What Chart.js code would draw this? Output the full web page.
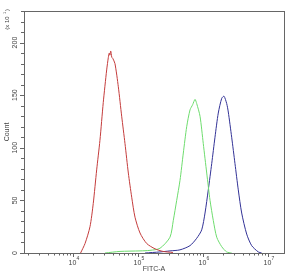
<!DOCTYPE html>
<html>
<head>
<meta charset="utf-8">
<script src="https://cdn.jsdelivr.net/npm/chart.js@4.4.0/dist/chart.umd.min.js"></script>
<style>
  html, body { margin: 0; padding: 0; background: #fff; }
  #wrap { width: 289px; height: 275px; }
</style>
</head>
<body>
<div id="wrap"><canvas id="myChart" width="289" height="275"></canvas></div>
<script>
'use strict';
// FITC-A values (x) and counts in units of 10 (y)
let redX = [12900, 15100, 18000, 20200, 22800, 25600, 28800, 32500, 34500, 35600, 36500, 37500, 39000, 40300, 43600, 49100, 55300, 62200, 70000, 78900, 88700, 105900, 134300, 179900, 238800, 340400];
let redY = [0, 9, 25, 47, 79, 107, 143, 174, 186, 190, 188, 192, 186, 185, 180, 158, 130, 104, 76, 53, 34, 19, 9, 4, 1.5, 0.5];

let greenX = [30600, 52100, 105900, 150700, 214900, 306000, 344300, 388200, 436500, 490900, 553300, 622300, 684000, 743000, 788900, 887200, 995400, 1125000, 1265000, 1419000, 1603000, 1914000, 2282000, 2723000];
let greenY = [0, 1.5, 2, 2.5, 4.5, 15, 31, 50, 69, 95, 120, 136, 141, 146, 142, 130, 104, 76, 50, 31, 15, 6, 1, 0];

let blueX = [126500, 214900, 306000, 436500, 622300, 788900, 941900, 1059000, 1189000, 1343000, 1507000, 1694000, 1914000, 2075000, 2282000, 2415000, 2723000, 3061000, 3441000, 3882000, 4632000, 5531000, 6993000, 7883000];
let blueY = [0, 1, 2, 3, 7, 14, 22, 38, 60, 85, 110, 133, 147, 149, 142, 134, 110, 85, 60, 38, 18, 7, 1, 0];

let countTicks = [0, 50, 100, 150, 200];
let fitcTicks = [10000, 100000, 1000000, 10000000];
let fitcExponents = ['4', '5', '6', '7'];

function toPoints(xs, ys){
    let pts = [];
    for (let i = 0; i < xs.length; i++){
        pts.push({x: xs[i], y: ys[i]});
    }
    return pts;
}

let axisColor = '#666666';
let textColor = '#444444';
let fontName = '"Liberation Sans", Arial, sans-serif';

let framePlugin = {
    id: 'frame',
    afterDraw(chart){
        let ctx = chart.ctx;
        let area = chart.chartArea;
        let xs = chart.scales.x;
        let ys = chart.scales.y;
        ctx.save();
        ctx.strokeStyle = axisColor;
        ctx.lineWidth = 1;
        ctx.strokeRect(Math.round(area.left) + 0.5, Math.round(area.top) + 0.5,
            Math.round(area.right - area.left), Math.round(area.bottom - area.top));

        // y ticks
        ctx.beginPath();
        for (let i = 0; i < ys.ticks.length; i++){
            let py = Math.round(ys.getPixelForValue(ys.ticks[i].value)) + 0.5;
            let len = ys.ticks[i].value % 50 === 0 ? 4 : 3;
            ctx.moveTo(area.left - len, py);
            ctx.lineTo(area.left, py);
        }
        // x ticks
        for (let i = 0; i < xs.ticks.length; i++){
            let v = xs.ticks[i].value;
            let px = Math.round(xs.getPixelForValue(v)) + 0.5;
            let major = fitcTicks.indexOf(v) >= 0;
            ctx.moveTo(px, area.bottom);
            ctx.lineTo(px, area.bottom + (major ? 4 : 2.5));
        }
        ctx.stroke();

        ctx.fillStyle = textColor;
        ctx.font = '7px ' + fontName;
        ctx.textAlign = 'center';
        ctx.textBaseline = 'middle';
        for (let i = 0; i < countTicks.length; i++){
            let py = ys.getPixelForValue(countTicks[i]);
            ctx.save();
            ctx.translate(15, py);
            ctx.rotate(-Math.PI / 2);
            ctx.fillText(String(countTicks[i]), 0, 0);
            ctx.restore();
        }
        for (let i = 0; i < fitcTicks.length; i++){
            let px = xs.getPixelForValue(fitcTicks[i]);
            ctx.font = '7px ' + fontName;
            ctx.textAlign = 'center';
            ctx.fillText('10', px - 1, 263);
            ctx.font = '5px ' + fontName;
            ctx.textAlign = 'left';
            ctx.fillText(fitcExponents[i], px + 3, 259);
        }

        ctx.font = '7px ' + fontName;
        ctx.textAlign = 'center';
        ctx.fillText('FITC-A', (area.left + area.right) / 2, 269);

        ctx.save();
        ctx.translate(7, (area.top + area.bottom) / 2);
        ctx.rotate(-Math.PI / 2);
        ctx.fillText('Count', 0, 0);
        ctx.restore();

        ctx.save();
        ctx.translate(7, 21);
        ctx.rotate(-Math.PI / 2);
        ctx.font = '6px ' + fontName;
        ctx.fillText('(x 10', -2, 0);
        ctx.font = '4px ' + fontName;
        ctx.fillText('1', 8, -2);
        ctx.font = '6px ' + fontName;
        ctx.fillText(')', 11, 0);
        ctx.restore();
        ctx.restore();
    }
};

function chartRender(){
    let ctx = document.getElementById('myChart').getContext('2d');
    let myChart = new Chart(ctx, {
        type: 'line',
        data: {
            datasets: [{
                data: toPoints(redX, redY),
                borderColor: 'rgb(196, 60, 60)'
            }, {
                data: toPoints(greenX, greenY),
                borderColor: 'rgb(110, 220, 110)'
            }, {
                data: toPoints(blueX, blueY),
                borderColor: 'rgb(50, 50, 150)'
            }]
        },
        options: {
            responsive: false,
            animation: false,
            layout: { padding: { top: 11, right: 5, left: 0, bottom: 0 } },
            elements: {
                point: { radius: 0 },
                line: { borderWidth: 1, tension: 0.25, fill: false }
            },
            plugins: {
                legend: { display: false },
                tooltip: { enabled: false }
            },
            scales: {
                x: {
                    type: 'logarithmic',
                    min: Math.pow(10, 3.24),
                    max: Math.pow(10, 7.24),
                    grid: { display: false },
                    border: { display: false },
                    ticks: { display: false },
                    afterBuildTicks(scale){
                        let t = [];
                        for (let n = 3; n <= 7; n++){
                            for (let k = 1; k <= 9; k++){
                                let v = k * Math.pow(10, n);
                                if (v >= scale.min && v <= scale.max) t.push({value: v});
                            }
                        }
                        scale.ticks = t;
                    },
                    afterFit(scale){ scale.height = 22; }
                },
                y: {
                    min: 0,
                    max: 230,
                    grid: { display: false },
                    border: { display: false },
                    ticks: { display: false, stepSize: 10 },
                    afterFit(scale){ scale.width = 24; }
                }
            }
        },
        plugins: [framePlugin]
    });
}
chartRender();
</script>
</body>
</html>
